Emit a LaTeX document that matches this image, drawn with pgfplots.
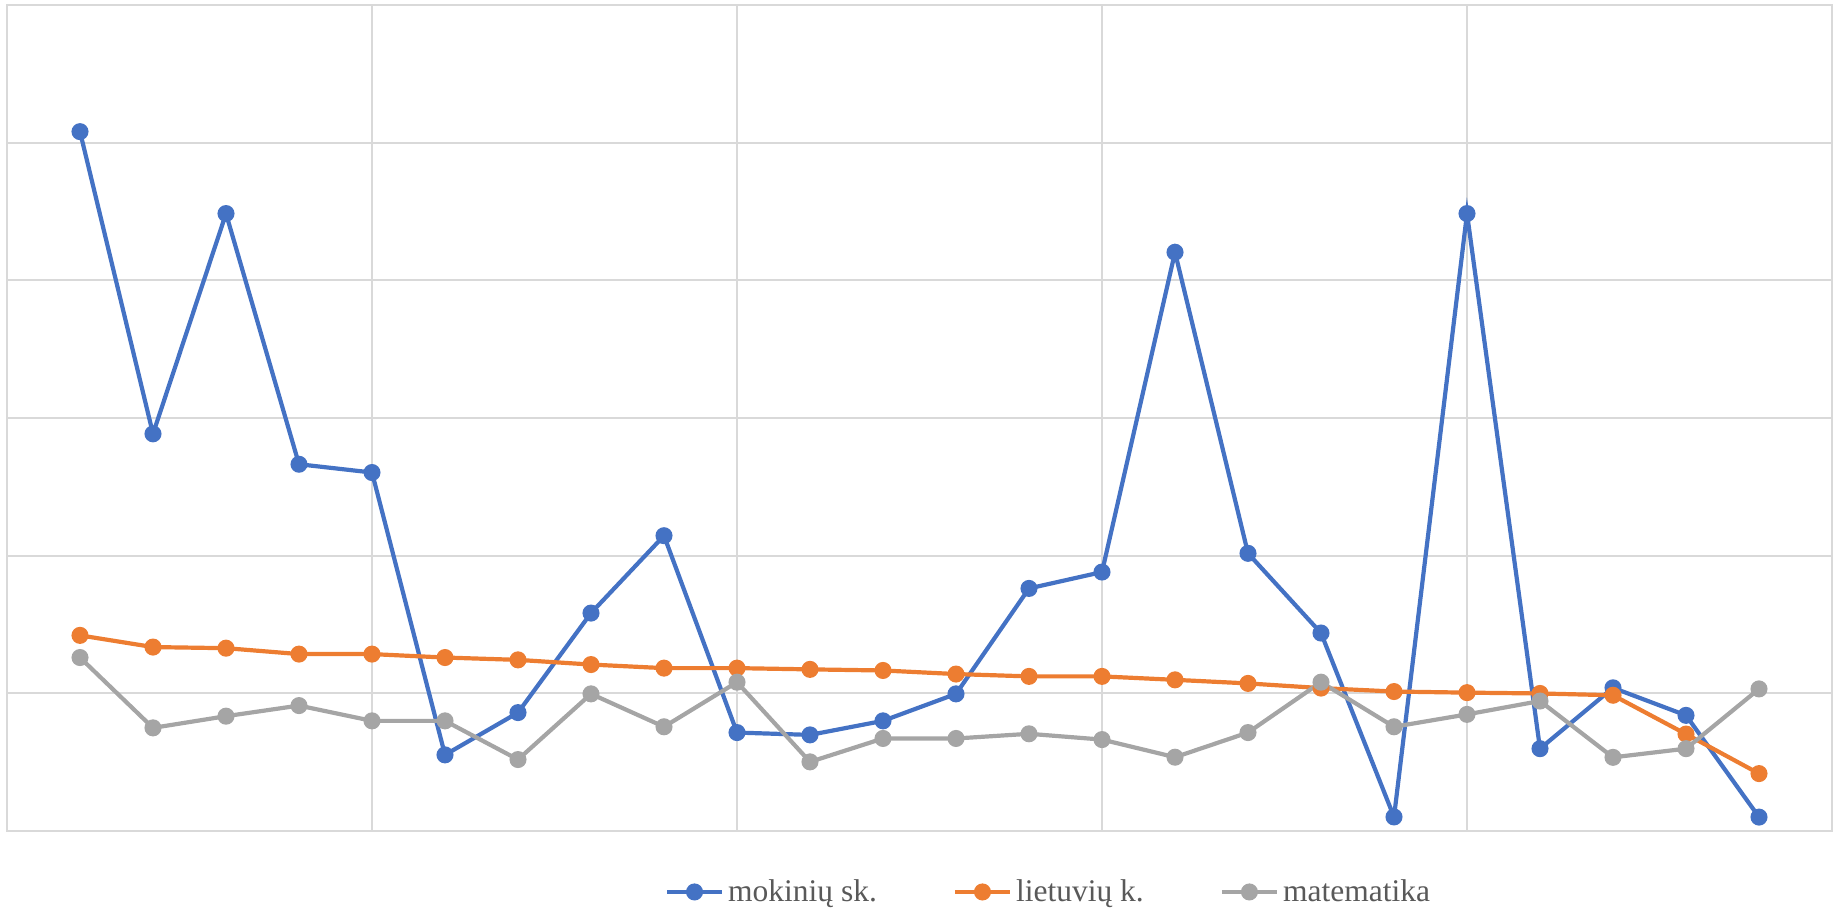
\documentclass[border=0pt]{standalone}
\usepackage{pgfplots}
\pgfplotsset{compat=1.18}
\usepackage{fontspec}
\setmainfont{Liberation Serif}

\definecolor{serblue}{HTML}{4472C4}
\definecolor{serorange}{HTML}{ED7D31}
\definecolor{sergray}{HTML}{A5A5A5}
\definecolor{gridgray}{HTML}{D9D9D9}
\definecolor{txtgray}{HTML}{595959}

\pgfplotstableread{
x  mok    liet   mat
1  5.080  1.421  1.260
2  2.885  1.336  0.749
3  4.485  1.328  0.834
4  2.664  1.285  0.911
5  2.604  1.285  0.800
6  0.553  1.260  0.800
7  0.860  1.243  0.519
8  1.583  1.209  0.996
9  2.145  1.183  0.757
10 0.715  1.183  1.081
11 0.698  1.174  0.502
12 0.800  1.166  0.672
13 0.996  1.140  0.672
14 1.762  1.123  0.706
15 1.881  1.123  0.664
16 4.204  1.098  0.536
17 2.017  1.072  0.715
18 1.438  1.038  1.081
19 0.102  1.013  0.757
20 4.485  1.005  0.847
21 0.598  0.999  0.944
22 1.040  0.986  0.535
23 0.840  0.704  0.598
24 0.101  0.417  1.032
}\data

\begin{document}
\begin{tikzpicture}
\begin{axis}[
    scale only axis,
    width=912.5pt, height=413pt,
    at={(3.5pt,39.5pt)}, anchor=south west,
    xmin=0, xmax=25, ymin=0, ymax=6,
    xtick={0,5,...,25}, ytick={0,1,...,6},
    xticklabels={}, yticklabels={},
    major tick length=0pt,
    grid=major,
    grid style={gridgray, line width=1pt},
    axis line style={gridgray, line width=1pt},
    every axis plot/.append style={line width=2.1pt, mark=*, mark size=3.2pt},
    legend columns=3,
    legend style={
        at={(0.3605,-0.0738)}, anchor=west,
        draw=none, fill=none, inner sep=0pt, outer sep=0pt,
        font=\fontsize{15.75}{18}\selectfont, text=txtgray,
        nodes={inner sep=0pt},
        /tikz/every odd column/.append style={column sep=2pt},
        /tikz/every even column/.append style={column sep=38pt},
    },
    legend image code/.code={
        \draw[mark repeat=2, mark phase=2] plot coordinates {(0pt,0pt) (13.75pt,0pt) (27.5pt,0pt)};
    },
]
\addplot[serblue, mark options={fill=serblue, draw=serblue}] table[x=x, y=mok] {\data};
\addplot[serorange, mark options={fill=serorange, draw=serorange}] table[x=x, y=liet] {\data};
\addplot[sergray, mark options={fill=sergray, draw=sergray}] table[x=x, y=mat] {\data};
\legend{mokinių sk., lietuvių k., matematika}
\end{axis}
\pgfresetboundingbox
\useasboundingbox (0,0) rectangle (918.5pt,455pt);
\end{tikzpicture}
\end{document}
